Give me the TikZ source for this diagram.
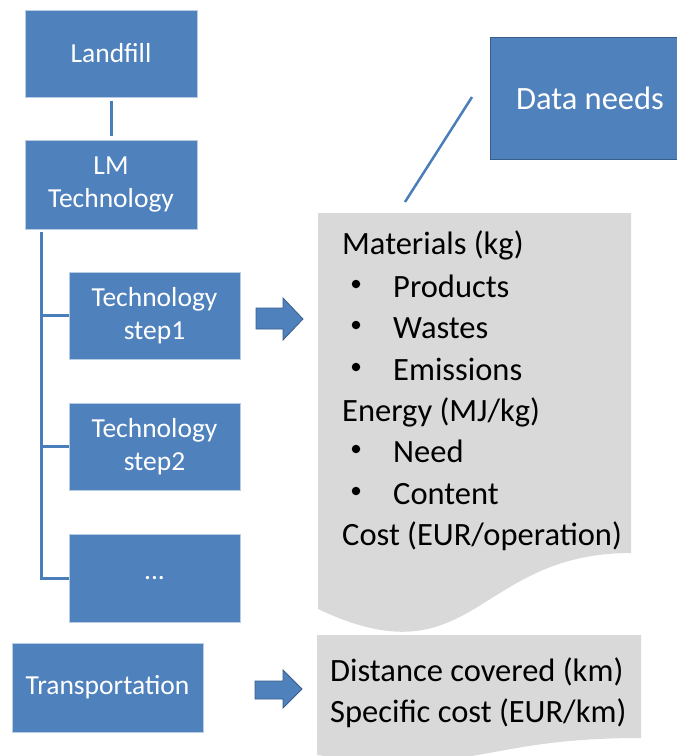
\documentclass[tikz,border=0pt]{standalone}
\usepackage{fontspec}
\setmainfont{Carlito}
\definecolor{boxblue}{HTML}{4F81BD}
\definecolor{boxedge}{HTML}{B8CCE4}
\definecolor{darkedge}{HTML}{385D8A}
\definecolor{treeline}{HTML}{4A7EBB}
\definecolor{docgray}{HTML}{D9D9D9}
\tikzset{
  bluebox/.style={draw=boxedge, line width=0.8pt, fill=boxblue, text=white, align=center,
    inner sep=0pt, font=\fontsize{27.5}{33}\selectfont},
  doctext/.style={anchor=base west, inner sep=0pt, font=\fontsize{32.5}{40}\selectfont, text=black},
  bulletdot/.style={circle, fill=black, inner sep=0pt, minimum size=8.5pt},
  treeln/.style={draw=treeline, line width=3pt},
  blockarrow/.style={fill=boxblue, draw=darkedge, line width=0.8pt, line join=miter},
}
\begin{document}
\begin{tikzpicture}[x=1pt,y=-1pt]
\useasboundingbox (0,0) rectangle (677,756);
% boxes
\node[bluebox, minimum width=172, minimum height=87] (landfill) at (111,53.5) {Landfill};
\node[bluebox, minimum width=172, minimum height=89] (lm) at (111,184.5) {LM\\Technology};
\node[bluebox, minimum width=171, minimum height=87] (s1) at (154.5,315.5) {Technology\\step1};
\node[bluebox, minimum width=171, minimum height=87] (s2) at (154.5,446.5) {Technology\\step2};
\node[bluebox, minimum width=171, minimum height=88] (s3) at (154.5,578) {...};
\node[bluebox, minimum width=191, minimum height=89] (tr) at (107.5,687.5) {Transportation};
\node[bluebox, draw=darkedge, font=\fontsize{32.5}{38}\selectfont, minimum width=200, minimum height=122] (dn) at (590,98) {Data needs};
% tree connectors
\draw[treeln, shorten <=4pt, shorten >=4pt] (landfill.south) -- (lm.south |- lm.north);
\coordinate (t0) at (41,232);
\draw[treeln] (t0) -- (t0 |- s3.west) -- (s3.west);
\draw[treeln] (t0 |- s1.west) -- (s1.west);
\draw[treeln] (t0 |- s2.west) -- (s2.west);
% document 1
\fill[docgray] (318,213) -- (631,213) -- (631,553) .. controls (474.5,553) and (474.5,683) .. (318,609) -- cycle;
\coordinate (doctop) at (405,202);
\coordinate (dnl) at (472,97);
\draw[treeline, line width=2.5pt] (dnl) -- (doctop);
\node[doctext] (m1) at (342,254) {Materials (kg)};
\node[bulletdot] (b1) at (356,284) {};
\node[doctext] (m2) at (393,297) {Products};
\node[bulletdot] (b2) at (356,325) {};
\node[doctext] (m3) at (393,338) {Wastes};
\node[bulletdot] (b3) at (356,367) {};
\node[doctext] (m4) at (393,380) {Emissions};
\node[doctext] (m5) at (342,421) {Energy (MJ/kg)};
\node[bulletdot] (b4) at (356,449) {};
\node[doctext] (m6) at (393,462) {Need};
\node[bulletdot] (b5) at (356,491) {};
\node[doctext] (m7) at (393,504) {Content};
\node[doctext] (m8) at (342,545) {Cost (EUR/operation)};
% document 2
\fill[docgray] (317,635) -- (641,635) -- (641,738) .. controls (479,738) and (479,777) .. (317,755) -- cycle;
\node[doctext] (d1) at (330,681) {Distance covered (km)};
\node[doctext] (d2) at (330,722) {Specific cost (EUR/km)};
% block arrows
\draw[blockarrow] (256,308) -- (283,308) -- (283,298) -- (303,319) -- (283,340) -- (283,329) -- (256,329) -- cycle;
\draw[blockarrow] (255,681) -- (283,681) -- (283,670) -- (302,689) -- (283,708) -- (283,699) -- (255,699) -- cycle;
\end{tikzpicture}
\end{document}
